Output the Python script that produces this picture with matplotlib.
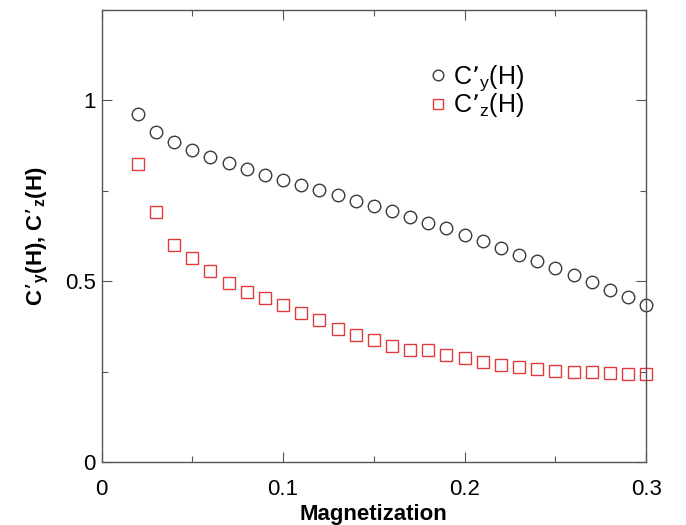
import matplotlib
matplotlib.use("Agg")
import matplotlib.pyplot as plt
from matplotlib.ticker import MultipleLocator

plt.rcParams['font.family'] = ['Liberation Sans', 'DejaVu Sans']
plt.rcParams['mathtext.default'] = 'regular'

magnetization = [0.02, 0.03, 0.04, 0.05, 0.06, 0.07, 0.08, 0.09, 0.10, 0.11,
                 0.12, 0.13, 0.14, 0.15, 0.16, 0.17, 0.18, 0.19, 0.20, 0.21,
                 0.22, 0.23, 0.24, 0.25, 0.26, 0.27, 0.28, 0.29, 0.30]
cy = [0.961, 0.912, 0.884, 0.864, 0.843, 0.826, 0.810, 0.794, 0.780, 0.766,
      0.752, 0.737, 0.723, 0.708, 0.694, 0.677, 0.662, 0.646, 0.629, 0.611,
      0.592, 0.573, 0.556, 0.537, 0.518, 0.499, 0.477, 0.457, 0.435]
cz = [0.823, 0.691, 0.601, 0.565, 0.529, 0.496, 0.471, 0.453, 0.434, 0.413,
      0.394, 0.369, 0.350, 0.337, 0.322, 0.311, 0.310, 0.295, 0.287, 0.276,
      0.267, 0.262, 0.256, 0.252, 0.250, 0.248, 0.245, 0.242, 0.242]
xticks = [0, 0.1, 0.2, 0.3]
xticklabels = ['0', '0.1', '0.2', '0.3']
yticks = [0, 0.5, 1.0]
yticklabels = ['0', '0.5', '1']

fig = plt.figure(figsize=(6.86, 5.25), dpi=100)
ax = fig.add_axes([0.148, 0.12, 0.794, 0.861])

ax.plot(magnetization, cy, linestyle='none', marker='o', markersize=9,
        markerfacecolor='none', markeredgecolor='#3a3a3a', markeredgewidth=1.0,
        clip_on=False, label="C\u2019$_y$(H)")
ax.plot(magnetization, cz, linestyle='none', marker='s', markersize=8,
        markerfacecolor='none', markeredgecolor='#e03a3a', markeredgewidth=1.0,
        clip_on=False, label="C\u2019$_z$(H)")

ax.set_xlim(0, 0.3)
ax.set_ylim(0, 1.25)
ax.set_xticks(xticks)
ax.set_xticklabels(xticklabels)
ax.set_yticks(yticks)
ax.set_yticklabels(yticklabels)
ax.xaxis.set_minor_locator(MultipleLocator(0.05))
ax.yaxis.set_minor_locator(MultipleLocator(0.25))
ax.tick_params(which='both', direction='in', top=True, right=True,
               labelsize=16, width=0.8, color='#555555')
ax.tick_params(which='major', length=7)
ax.tick_params(axis='x', which='major', pad=12)
ax.tick_params(axis='y', which='major', pad=4)
ax.tick_params(which='minor', length=4)
for s in ax.spines.values():
    s.set_color('#555555')
    s.set_linewidth(1.0)

ax.set_xlabel('Magnetization', fontsize=16, fontweight='bold', labelpad=3)
ax.set_ylabel("C\u2019$_y$(H), C\u2019$_z$(H)", fontsize=16, fontweight='bold', labelpad=10)

ax.legend(loc='upper left', bbox_to_anchor=(0.577, 0.905), frameon=False,
          fontsize=18, handlelength=1.0, handletextpad=0.1, labelspacing=-0.05,
          borderaxespad=0, markerscale=0.85)

fig.savefig('out.png', dpi=100)
